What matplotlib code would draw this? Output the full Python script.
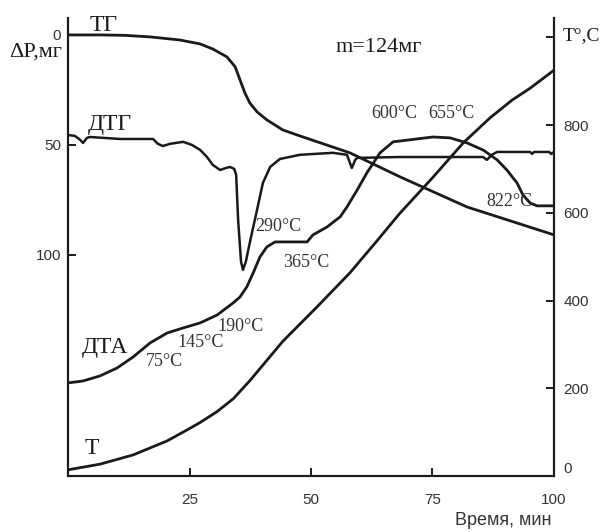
import matplotlib.pyplot as plt

# time, min
tg_t = [0, 6.6, 11.7, 16.9, 23.0, 27.2, 29.8, 32.7, 34.4, 35.4, 36.4, 37.4, 38.9, 40.9, 44.2, 47.7,
        58.0, 68.3, 82.1, 100]
tg_dp = [0, 0, 0.2, 0.9, 2.3, 4.1, 6.4, 10.0, 14.5, 20.5, 26.4, 30.9, 35.0, 38.6, 43.2, 45.9,
         53.6, 64.5, 78.2, 90.9]

dtg_t = [0, 1.4, 2.5, 3.1, 3.9, 4.5, 10.7, 17.5, 18.5, 19.5, 21.0, 23.7, 25.5, 27.2, 28.6, 29.8, 31.3,
         32.5, 33.3, 34.2, 34.6, 35.0, 35.6, 36.0, 36.6, 37.4, 38.9, 40.1, 41.6, 43.6, 47.7, 54.5, 57.4,
         58.4, 59.1, 59.5, 68.3, 85.4, 86.2, 87.2, 88.3, 95.1, 95.5, 95.9, 99.0, 99.4, 100]
dtg_v = [45.5, 45.9, 47.7, 49.1, 46.8, 46.4, 47.3, 47.3, 49.5, 50.5, 49.5, 48.6, 50.0, 52.3, 55.5, 59.1, 61.4,
         60.5, 60.0, 60.9, 63.6, 84.0, 103.0, 106.8, 103.0, 94.5, 79.5, 67.3, 60.0, 56.4, 54.5, 53.6, 54.5,
         60.5, 56.8, 55.9, 55.5, 55.5, 56.8, 54.5, 53.2, 53.2, 54.1, 53.2, 53.2, 54.1, 53.2]

dta_t = [0, 3.1, 6.6, 10.1, 13.4, 16.9, 20.4, 23.7, 27.2, 30.7, 34.0, 35.4, 36.8, 38.1, 39.5, 40.9, 42.6,
         49.2, 50.4, 53.3, 56.0, 57.4, 59.5, 61.5, 64.2, 66.9, 75.1, 78.6, 82.1, 85.4, 88.3, 90.3, 92.4,
         93.6, 95.1, 96.5, 100]
dta_v = [158.2, 157.3, 155.0, 151.4, 146.4, 140.0, 135.5, 133.2, 130.9, 127.3, 121.8, 119.1, 114.5, 108.2,
         100.9, 96.4, 94.1, 94.1, 90.9, 87.3, 82.7, 78.2, 70.5, 62.7, 53.6, 48.6, 46.4, 46.8, 49.1, 52.3,
         56.8, 61.4, 67.3, 72.7, 76.4, 77.7, 77.7]

temp_t = [0, 6.6, 13.4, 20.4, 24.5, 27.2, 30.7, 34.0, 37.4, 40.8, 44.2, 47.7, 51.2, 58.0, 63.2, 68.3,
          75.1, 81.3, 86.8, 91.4, 95.1, 100]
temp_c = [14, 27, 48, 80, 105, 122, 147, 176, 217, 262, 307, 346, 385, 463, 531, 599,
          681, 759, 816, 857, 884, 925]

x_ticks = [25, 50, 75, 100]
dp_ticks = [0, 50, 100]
temp_ticks = [0, 200, 400, 600, 800, 1000]
temp_labels = ["0", "200", "400", "600", "800", ""]

notes = [("75°C", 19.8, 148.6), ("145°C", 27.2, 140.0), ("190°C", 35.6, 132.7),
         ("290°C", 43.2, 87.3), ("365°C", 49.0, 103.6), ("600°C", 67.1, 35.5),
         ("655°C", 78.8, 35.5), ("822°C", 90.9, 75.9)]
curve_names = [("ТГ", 7.4, -4.1), ("ДТГ", 8.6, 40.5), ("ДТА", 7.6, 142.3), ("T", 4.9, 188.2)]

ink = "#1a1a1a"
serif = "Liberation Serif"
sans = "Liberation Sans"

fig = plt.figure(figsize=(6.04, 5.32), dpi=100)
ax = fig.add_axes([0.1126, 0.1053, 0.8046, 0.8609])
ax2 = ax.twinx()

ax.plot(tg_t, tg_dp, color=ink, lw=2.0)
ax.plot(dtg_t, dtg_v, color=ink, lw=1.8)
ax.plot(dta_t, dta_v, color=ink, lw=2.0)
ax2.plot(temp_t, temp_c, color=ink, lw=2.0)

ax.set_xlim(0, 100)
ax.set_ylim(200.5, -7.7)
ax2.set_ylim(0, 1044)

ax.set_xticks(x_ticks)
ax.set_yticks(dp_ticks)
ax2.set_yticks(temp_ticks)
ax2.set_yticklabels(temp_labels)

for a in (ax, ax2):
    a.spines["top"].set_visible(False)
    for s in a.spines.values():
        s.set_linewidth(1.5)
        s.set_color(ink)
    a.tick_params(direction="in", length=6, width=1.4, color=ink, labelsize=11, labelcolor="#333333")
    for lab in a.get_xticklabels() + a.get_yticklabels():
        lab.set_fontfamily(sans)
ax.tick_params(axis="x", pad=12)
ax.tick_params(axis="y", pad=5)
ax2.tick_params(axis="y", pad=7)
ax2.get_yticklabels()[0].set_verticalalignment("bottom")

for txt, x, y in notes:
    ax.text(x, y, txt, ha="center", va="center", fontsize=13, family=serif, color="#333333")
for txt, x, y in curve_names:
    ax.text(x, y, txt, ha="center", va="center", fontsize=17, family=serif, color=ink)

ax.text(64.0, 5.9, "m=124мг", ha="center", va="center", fontsize=16, family=serif, color=ink)
ax.text(-6.6, 7.7, "ΔP,мг", ha="center", va="center", fontsize=16, family=serif, color=ink, clip_on=False)
ax.text(105.6, 0.5, "T°,C", ha="center", va="center", fontsize=14, family=serif, color=ink, clip_on=False)
fig.text(0.834, 0.021, "Время, мин", ha="center", va="center", fontsize=13, family=sans, color="#333333")

fig.savefig("out.png", dpi=100)
